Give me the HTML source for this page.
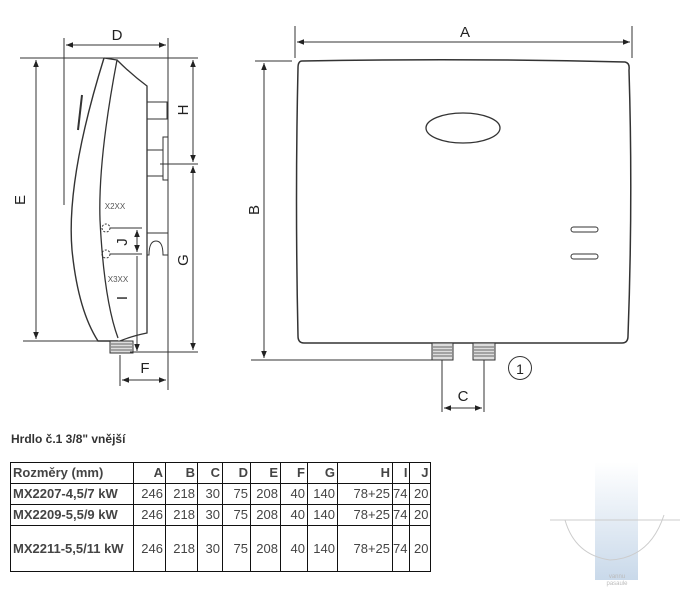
<!DOCTYPE html>
<html><head><meta charset="utf-8"><style>
body{margin:0;width:684px;height:591px;background:#fff;position:relative;overflow:hidden;font-family:"Liberation Sans",sans-serif}
svg{position:absolute;left:0;top:0}
.t{position:absolute;left:11px;top:432px;font-weight:bold;font-size:12px;color:#333}
table{position:absolute;left:10px;top:462px;border-collapse:collapse;font-size:13px;color:#444}
td{border:1px solid #111;padding:0 2px 0 0;text-align:right;height:20px;line-height:20px}
td:first-child{text-align:left;font-weight:bold;padding-left:2px}
tr.h td{font-weight:bold}
</style></head><body>
<svg width="684" height="591" viewBox="0 0 684 591">
<defs><marker id="a" viewBox="0 0 10 10" refX="10" refY="5" markerWidth="7" markerHeight="7" orient="auto-start-reverse"><path d="M0,1L10,5L0,9z" fill="#222"/></marker>
<linearGradient id="g" x1="0" y1="0" x2="0" y2="1"><stop offset="0" stop-color="#fff"/><stop offset="1" stop-color="#c9d9ea"/></linearGradient></defs>
<g stroke="#333" stroke-width="1" fill="none">
<!-- front view -->
<line x1="295" y1="26" x2="295" y2="58"/><line x1="632" y1="26" x2="632" y2="58"/>
<line x1="297" y1="42" x2="630" y2="42" marker-start="url(#a)" marker-end="url(#a)"/>
<path d="M302,61 Q465,58 625,62 Q630,63 629,70 Q633,200 628,336 Q628,343 622,343 L304,343 Q298,343 298,336 Q295,200 298,68 Q298,61 302,61z" stroke-width="1.5"/>
<ellipse cx="463" cy="128" rx="37" ry="15" stroke-width="1.3"/>
<rect x="571" y="227" width="27" height="5" rx="2.5"/><rect x="571" y="254" width="27" height="5" rx="2.5"/>
<line x1="255" y1="61" x2="292" y2="61"/><line x1="251" y1="360" x2="432" y2="360"/>
<line x1="264" y1="63" x2="264" y2="358" marker-start="url(#a)" marker-end="url(#a)"/>
<rect x="432" y="343" width="21" height="17" fill="#ddd"/><rect x="473" y="343" width="22" height="17" fill="#ddd"/>
<path d="M433,347h19M433,350h19M433,353h19M433,356h19M474,347h20M474,350h20M474,353h20M474,356h20" stroke="#666"/>
<line x1="442" y1="360" x2="442" y2="412"/><line x1="484" y1="360" x2="484" y2="412"/>
<line x1="444" y1="408" x2="482" y2="408" marker-start="url(#a)" marker-end="url(#a)"/>
<circle cx="520" cy="368" r="11.5"/>
<!-- side view -->
<line x1="64" y1="38" x2="64" y2="205"/><line x1="168" y1="38" x2="168" y2="390"/>
<line x1="66" y1="45" x2="166" y2="45" marker-start="url(#a)" marker-end="url(#a)"/>
<line x1="20" y1="58" x2="198" y2="58"/><line x1="23" y1="341" x2="100" y2="341"/>
<line x1="36" y1="60" x2="36" y2="339" marker-start="url(#a)" marker-end="url(#a)"/>
<path d="M104,58 Q66,180 72,250 Q78,310 98,341 L118,341" stroke-width="1.4"/>
<path d="M104,58 L117,60 Q98,160 100,220 Q104,300 118,338" stroke-width="1.3"/>
<path d="M117,60 Q132,75 147,86 L147,333 Q132,336 120,341" stroke-width="1.3"/>
<path d="M82,95 L78,130" stroke-width="2"/>
<rect x="147" y="102" width="20" height="17"/>
<rect x="147" y="150" width="16" height="26"/><rect x="163" y="137" width="5" height="43"/>
<path d="M147,233 h21 v22 h-5 q0,-14 -7,-14 q-7,0 -7,14 h-2z"/>
<rect x="110" y="341" width="23" height="12" fill="#ddd"/>
<path d="M111,344h21M111,347h21M111,350h21" stroke="#666"/>
<line x1="160" y1="164" x2="198" y2="164"/><line x1="130" y1="352" x2="198" y2="352"/>
<line x1="193" y1="60" x2="193" y2="162" marker-start="url(#a)" marker-end="url(#a)"/>
<line x1="193" y1="166" x2="193" y2="350" marker-start="url(#a)" marker-end="url(#a)"/>
<line x1="110" y1="228" x2="142" y2="228"/><line x1="110" y1="254" x2="142" y2="254"/>
<line x1="137" y1="230" x2="137" y2="252" marker-start="url(#a)" marker-end="url(#a)"/>
<line x1="137" y1="256" x2="137" y2="351" marker-end="url(#a)"/>
<circle cx="106" cy="228" r="4" stroke-dasharray="2 1.5"/><circle cx="106" cy="254" r="4" stroke-dasharray="2 1.5"/>
<line x1="120" y1="355" x2="120" y2="386"/>
<line x1="122" y1="380" x2="166" y2="380" marker-start="url(#a)" marker-end="url(#a)"/>
</g>
<g fill="#222" font-size="15" font-family="Liberation Sans,sans-serif" text-anchor="middle">
<text x="465" y="37">A</text><text x="117" y="40">D</text><text x="463" y="401">C</text><text x="145" y="373">F</text>
<text x="520" y="374" font-size="14">1</text>
<text transform="translate(259,210) rotate(-90)">B</text>
<text transform="translate(25,200) rotate(-90)">E</text>
<text transform="translate(188,110) rotate(-90)">H</text>
<text transform="translate(188,260) rotate(-90)">G</text>
<text transform="translate(127,242) rotate(-90)">J</text>
<text transform="translate(127,298) rotate(-90)">I</text>
<text x="115" y="209" font-size="8" fill="#555">X2XX</text><text x="118" y="282" font-size="8" fill="#555">X3XX</text>
</g>
<rect x="595" y="462" width="43" height="118" fill="url(#g)"/>
<g stroke="#ccc" fill="none"><path d="M565,520 Q575,555 610,560 Q650,558 664,515"/><line x1="550" y1="520" x2="680" y2="520"/></g>
<text x="617" y="578" font-size="6" fill="#bbb" text-anchor="middle" font-family="Liberation Sans,sans-serif">vannu</text>
<text x="617" y="585" font-size="6" fill="#bbb" text-anchor="middle" font-family="Liberation Sans,sans-serif">pasaule</text>
</svg>
<div class="t">Hrdlo č.1 3/8" vnější</div>
<table>
<colgroup><col style="width:123px"><col style="width:32px"><col style="width:32px"><col style="width:25px"><col style="width:28px"><col style="width:30px"><col style="width:27px"><col style="width:30px"><col style="width:55px"><col style="width:16px"><col style="width:21px"></colgroup>
<tr class="h"><td>Rozměry (mm)</td><td>A</td><td>B</td><td>C</td><td>D</td><td>E</td><td>F</td><td>G</td><td>H</td><td>I</td><td>J</td></tr>
<tr><td>MX2207-4,5/7 kW</td><td>246</td><td>218</td><td>30</td><td>75</td><td>208</td><td>40</td><td>140</td><td>78+25</td><td>74</td><td>20</td></tr>
<tr><td>MX2209-5,5/9 kW</td><td>246</td><td>218</td><td>30</td><td>75</td><td>208</td><td>40</td><td>140</td><td>78+25</td><td>74</td><td>20</td></tr>
<tr style="height:46px"><td>MX2211-5,5/11 kW</td><td>246</td><td>218</td><td>30</td><td>75</td><td>208</td><td>40</td><td>140</td><td>78+25</td><td>74</td><td>20</td></tr>
</table>
</body></html>
